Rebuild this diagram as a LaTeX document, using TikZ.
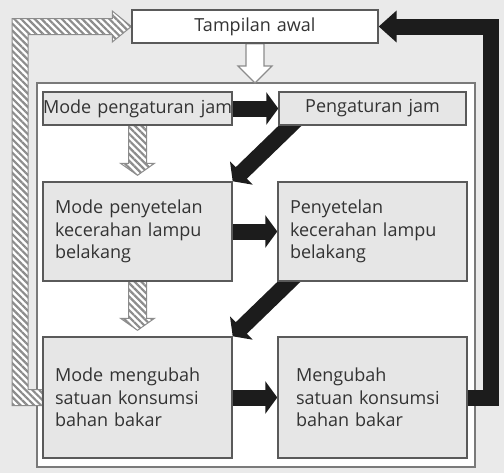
\documentclass[tikz,border=0pt]{standalone}
\usepackage{fontspec}
\setmainfont{Open Sans}
\usetikzlibrary{arrows.meta,calc,patterns.meta}

\definecolor{pagebg}{HTML}{EAEAEA}
\definecolor{boxfill}{HTML}{E6E6E6}
\definecolor{boxline}{HTML}{5A5A5A}
\definecolor{frameline}{HTML}{7A7A7A}
\definecolor{textcol}{HTML}{333333}
\definecolor{arrowblk}{HTML}{1C1C1C}
\definecolor{hatchline}{HTML}{8C8C8C}

\pgfdeclarelayer{back}
\pgfdeclarelayer{conn}
\pgfsetlayers{back,conn,main}

\tikzset{
  box/.style={draw=boxline, fill=boxfill, line width=0.7pt, inner xsep=6pt, inner ysep=0pt,
    text width=82.5pt, align=left, font=\fontsize{9}{11.25}\selectfont, text=textcol},
  onerow/.style={box, align=center, inner xsep=0pt, text width=94.5pt, minimum height=16.5pt},
  topbox/.style={box, fill=white, align=center, text width=111pt, minimum height=16.5pt},
  blkarrow/.style={draw=arrowblk, line width=8pt, line join=miter, -{Triangle[width=16pt,length=6pt]}},
  hatched/.style={draw=hatchline, line width=0.5pt, preaction={fill=white},
    pattern={Lines[angle=-45,distance=2.4pt,line width=1.1pt]}, pattern color=hatchline},
  hollow/.style={draw=hatchline, line width=0.6pt, fill=white},
}

% block arrow pointing down: style, from, to, head length
\newcommand{\downblock}[4]{%
  \path[#1] let \p1=(#2), \p2=(#3) in
    (\x1-4.5pt,\y1) -- (\x1+4.5pt,\y1) -- (\x1+4.5pt,\y2+#4) -- (\x1+8.5pt,\y2+#4)
    -- (\x1,\y2) -- (\x1-8.5pt,\y2+#4) -- (\x1-4.5pt,\y2+#4) -- cycle;
}

\begin{document}
\begin{tikzpicture}[x=0.5pt,y=-0.5pt]
  \useasboundingbox (0,0) rectangle (504,473);

  % boxes
  \node[topbox] (tampil) at (255,26.5) {Tampilan awal};
  \node[onerow] (mpj) at (137.5,108.5) {\mbox{Mode pengaturan jam}};
  \node[onerow, text width=93.5pt] (pj) at (372.5,108.5) {\mbox{Pengaturan jam}};
  \node[box, minimum height=49.5pt] (mpk) at (137.5,231.5) {Mode penyetelan\\kecerahan lampu\\belakang};
  \node[box, minimum height=49.5pt] (pk) at (372.5,231.5) {Penyetelan\\kecerahan lampu\\belakang};
  \node[box, minimum height=60.5pt] (mms) at (137.5,397.5) {Mode mengubah\\satuan konsumsi\\bahan bakar};
  \node[box, minimum height=60.5pt] (ms) at (372.5,397.5) {\hspace*{3pt}Mengubah\\\hspace*{3pt}satuan konsumsi\\\hspace*{3pt}bahan bakar};

  \coordinate (frametop) at (254,83);
  \coordinate (lcol) at (20,0);
  \coordinate (rcol) at (491,0);

  % background and panel
  \begin{pgfonlayer}{back}
    \fill[pagebg] (0,0) rectangle (504,473);
    \draw[frameline, fill=white, line width=0.8pt] (37,83) rectangle (475,467);
  \end{pgfonlayer}

  % connectors
  \begin{pgfonlayer}{conn}
    \draw[blkarrow] (mpj.east) -- (pj.west);
    \draw[blkarrow] (mpk.east) -- (pk.west);
    \draw[blkarrow] (mms.east) -- (ms.west);
    \draw[blkarrow] ($(pj.south west)+(19,-7)$) -- (mpk.north east);
    \draw[blkarrow] ($(pk.south west)+(19,-7)$) -- (mms.north east);
    \draw[blkarrow, -{Triangle[width=15.5pt,length=9pt]}]
      (ms.east) -- (ms.east -| rcol) -- (rcol |- tampil.east) -- (tampil.east);

    \downblock{hollow}{tampil.south}{frametop}{8.5pt}
    \downblock{hatched}{mpj.south}{$(mpk.north)+(0,-6)$}{6pt}
    \downblock{hatched}{mpk.south}{$(mms.north)+(0,-6)$}{6pt}

    \path[hatched] let \p1=(mms.west), \p2=(tampil.west), \p3=(lcol) in
      (\x1,\y1+4pt) -- (\x3+4pt,\y1+4pt) -- (\x3+4pt,\y2-4pt) -- (\x2-9.5pt,\y2-4pt)
      -- (\x2-9.5pt,\y2-7.75pt) -- (\x2,\y2) -- (\x2-9.5pt,\y2+7.75pt) -- (\x2-9.5pt,\y2+4pt)
      -- (\x3-4pt,\y2+4pt) -- (\x3-4pt,\y1-4pt) -- (\x1,\y1-4pt) -- cycle;
  \end{pgfonlayer}
\end{tikzpicture}
\end{document}
